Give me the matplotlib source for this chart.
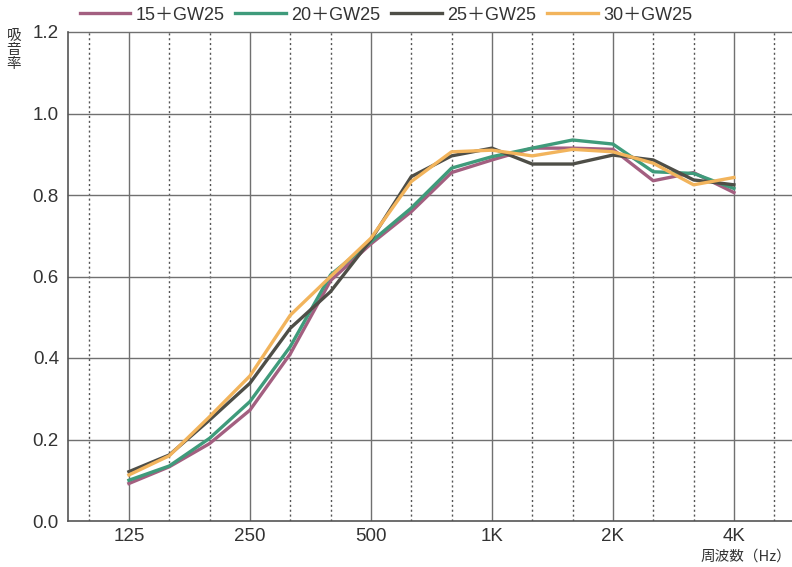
import matplotlib
matplotlib.use("Agg")
import matplotlib.pyplot as plt
import numpy as np

plt.rcParams['font.family'] = ['Liberation Sans', 'Noto Sans CJK JP', 'DejaVu Sans']

bands = ['125', '160', '200', '250', '315', '400', '500', '630', '800',
         '1000', '1250', '1600', '2000', '2500', '3150', '4000']
tick_labels = ['125', '250', '500', '1K', '2K', '4K']
series_names = ['15＋GW25', '20＋GW25', '25＋GW25', '30＋GW25']

s15 = [0.092, 0.133, 0.190, 0.272, 0.410, 0.590, 0.680, 0.759, 0.855, 0.886,
       0.915, 0.915, 0.912, 0.835, 0.855, 0.806]
s20 = [0.100, 0.135, 0.203, 0.293, 0.428, 0.604, 0.685, 0.768, 0.866, 0.894,
       0.915, 0.935, 0.925, 0.857, 0.853, 0.816]
s25 = [0.121, 0.162, 0.248, 0.338, 0.473, 0.563, 0.690, 0.845, 0.896, 0.915,
       0.876, 0.876, 0.898, 0.886, 0.837, 0.825]
s30 = [0.113, 0.160, 0.256, 0.356, 0.505, 0.600, 0.694, 0.833, 0.906, 0.910,
       0.896, 0.912, 0.906, 0.878, 0.825, 0.843]

colors = ['#a35f80', '#3f9b7b', '#4e4e47', '#f2b45c']

fig = plt.figure(figsize=(7.92, 5.67), dpi=100)
ax = fig.add_axes([68/792, 1-521/567, 1-68/792, (521-32)/567])

x = np.arange(len(bands))
for vals, c, name in zip([s15, s20, s25, s30], colors, series_names):
    ax.plot(x, vals, color=c, lw=2.4, label=name, zorder=3)

# grid
solid_idx = [0, 3, 6, 9, 12, 15]
dotted_idx = [-1, 1, 2, 4, 5, 7, 8, 10, 11, 13, 14, 16]
for i in solid_idx:
    ax.axvline(i, color='#707070', lw=1.0, zorder=1)
for i in dotted_idx:
    ax.axvline(i, color='#555555', lw=1.0, ls=(0, (1.5, 2.0)), zorder=1)
for yv in [0.2, 0.4, 0.6, 0.8, 1.0, 1.2]:
    ax.axhline(yv, color='#707070', lw=1.0, zorder=1, clip_on=False)

ax.set_xlim(-1.51, 16.44)
ax.set_ylim(0, 1.2)
ax.set_xticks(solid_idx)
ax.set_xticklabels(tick_labels)
ax.set_yticks([0.0, 0.2, 0.4, 0.6, 0.8, 1.0, 1.2])
ax.set_yticklabels(['0.0', '0.2', '0.4', '0.6', '0.8', '1.0', '1.2'])
ax.tick_params(axis='both', length=0, labelsize=13.5, colors='#333333')
ax.tick_params(axis='x', pad=5)
ax.tick_params(axis='y', pad=6.5)
ax.spines['right'].set_visible(False)
ax.spines['top'].set_visible(False)
for side in ['left', 'bottom']:
    ax.spines[side].set_color('#555555')
    ax.spines[side].set_linewidth(1.2)

fig.legend(loc='center', bbox_to_anchor=(386/792, 1-15/567), ncol=4,
           frameon=False, fontsize=13, handlelength=2.8, columnspacing=0.6,
           handletextpad=0.3, labelcolor='#333333', borderpad=0, borderaxespad=0)

for k, ch in enumerate(['吸', '音', '率']):
    fig.text(14/792, 1-(36 + k*14)/567, ch, fontsize=10.5, ha='center', va='center',
             color='#333333', family=['Noto Sans CJK JP'])
fig.text(701/792, 1-557/567, '周波数（Hz）', fontsize=10.5, ha='left', va='center',
         color='#333333', family=['Noto Sans CJK JP'])

fig.savefig('out.png', dpi=100)
